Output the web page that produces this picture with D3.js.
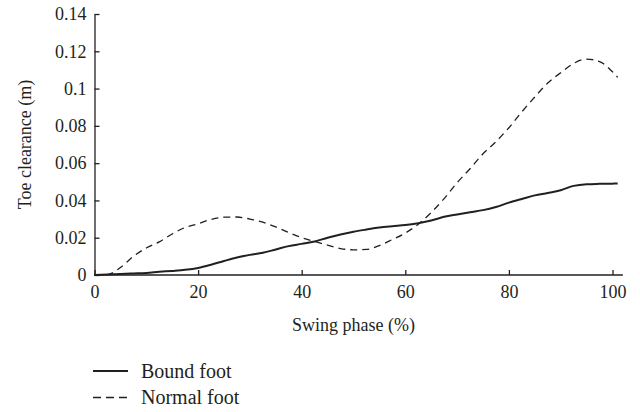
<!DOCTYPE html>
<html>
<head>
<meta charset="utf-8">
<script src="https://cdn.jsdelivr.net/npm/d3@7"></script>
<style>
  body { margin: 0; background: #fff; }
  text { font-family: "Liberation Serif", "DejaVu Serif", serif; fill: #231f20; }
</style>
</head>
<body>
<div id="chart"></div>
<script>
// swing phase (%) sampled every 2.5
const phase = [0, 2.5, 5, 7.5, 10, 12.5, 15, 17.5, 20, 22.5, 25, 27.5, 30, 32.5, 35, 37.5, 40, 42.5, 45, 47.5,
  50, 52.5, 55, 57.5, 60, 62.5, 65, 67.5, 70, 72.5, 75, 77.5, 80, 82.5, 85, 87.5, 90, 92.5, 95, 97.5, 100, 101]

const boundFoot = [0, 0.0003, 0.0005, 0.0008, 0.0011, 0.0017, 0.0022, 0.0028, 0.0038, 0.0055, 0.0075, 0.0094,
  0.0108, 0.0119, 0.0137, 0.0155, 0.0167, 0.018, 0.02, 0.0217, 0.0232, 0.0244, 0.0255, 0.0262, 0.0268, 0.0278,
  0.0292, 0.0312, 0.0325, 0.0337, 0.0348, 0.0365, 0.0388, 0.0408, 0.0427, 0.044, 0.0455, 0.0478, 0.0487, 0.0489,
  0.049, 0.0491]

const normalFoot = [0, 0.0002, 0.004, 0.01, 0.0145, 0.0178, 0.022, 0.0255, 0.0275, 0.0298, 0.031, 0.0311, 0.03,
  0.0283, 0.0258, 0.0228, 0.02, 0.018, 0.016, 0.0142, 0.0135, 0.0137, 0.0158, 0.019, 0.0225, 0.0272, 0.0335,
  0.041, 0.0495, 0.057, 0.065, 0.0715, 0.079, 0.0875, 0.0955, 0.103, 0.1085, 0.1135, 0.1158, 0.1145, 0.109, 0.106]

const xTicks = [0, 20, 40, 60, 80, 100]
const yTicks = [0, 0.02, 0.04, 0.06, 0.08, 0.1, 0.12, 0.14]
const legendLabels = ["Bound foot", "Normal foot"]

const width = 640
const height = 412

const x = d3.scaleLinear().domain([0, 100]).range([94.5, 612.5])
const y = d3.scaleLinear().domain([0, 0.14]).range([275, 14])

const svg = d3.select('#chart')
  .append('svg')
  .attr('width', width)
  .attr('height', height)

// axes, ticks pointing inward
const xAxis = svg.append('g')
  .attr('transform', `translate(0,${y(0)})`)
  .call(d3.axisBottom(x).tickValues(xTicks).tickSizeInner(-5).tickSizeOuter(0).tickPadding(10)
    .tickFormat(d3.format('d')))
xAxis.select('.domain').attr('d', `M${x(0)},0H${x(102)}`)

const yAxis = svg.append('g')
  .attr('transform', `translate(${x(0)},0)`)
  .call(d3.axisLeft(y).tickValues(yTicks).tickSizeInner(-5).tickSizeOuter(0).tickPadding(8)
    .tickFormat(d => d === 0 ? '0' : String(+d.toFixed(2))))

svg.selectAll('.domain, .tick line').attr('stroke', '#231f20').attr('stroke-width', 1.3)
svg.selectAll('.tick text').attr('font-size', 18).attr('font-family', '"Liberation Serif", serif').attr('fill', '#231f20')

// titles
svg.append('text')
  .attr('x', 353.5)
  .attr('y', 331)
  .attr('text-anchor', 'middle')
  .attr('font-size', 18)
  .text('Swing phase (%)')

svg.append('text')
  .attr('transform', `translate(31,${(y(0) + y(0.14)) / 2}) rotate(-90)`)
  .attr('text-anchor', 'middle')
  .attr('font-size', 18)
  .text('Toe clearance (m)')

const line = (vals) => d3.line()
  .x((d, i) => x(phase[i]))
  .y(d => y(d))
  .curve(d3.curveMonotoneX)(vals)

svg.append('path')
  .attr('d', line(normalFoot))
  .attr('fill', 'none')
  .attr('stroke', '#231f20')
  .attr('stroke-width', 1.3)
  .attr('stroke-dasharray', '7,5')

svg.append('path')
  .attr('d', line(boundFoot))
  .attr('fill', 'none')
  .attr('stroke', '#231f20')
  .attr('stroke-width', 2)

// legend
const legend = svg.append('g')
legendLabels.forEach((label, i) => {
  const ly = 371 + i * 26.5
  legend.append('line')
    .attr('x1', 93).attr('x2', 128)
    .attr('y1', ly).attr('y2', ly)
    .attr('stroke', '#231f20')
    .attr('stroke-width', i === 0 ? 2 : 1.3)
    .attr('stroke-dasharray', i === 0 ? null : '8,5')
  legend.append('text')
    .attr('x', 141)
    .attr('y', ly + 6.5)
    .attr('font-size', 20)
    .text(label)
})
</script>
</body>
</html>
